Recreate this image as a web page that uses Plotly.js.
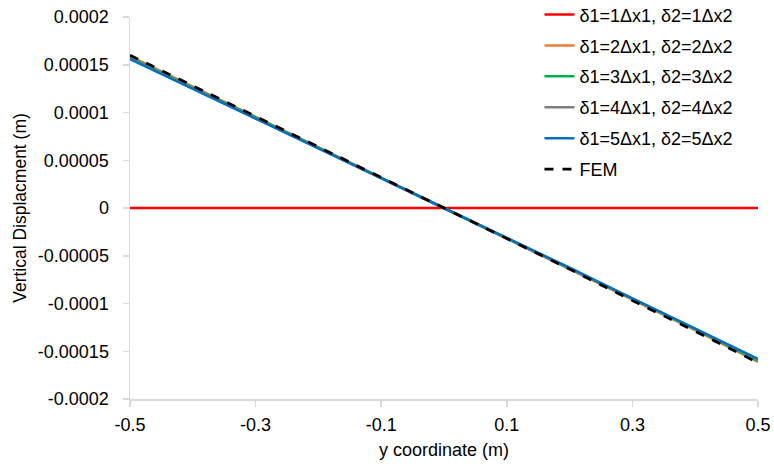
<!DOCTYPE html>
<html>
<head>
<meta charset="utf-8">
<script src="https://cdn.plot.ly/plotly-3.0.1.min.js"></script>
<style>html,body{margin:0;padding:0;background:#fff;}#chart{width:774px;height:474px;}</style>
</head>
<body>
<div id="chart"></div>
<script>
const yCoord = [-0.5, -0.4, -0.3, -0.2, -0.1, 0, 0.1, 0.2, 0.3, 0.4, 0.5];
const delta1 = [0, 0, 0, 0, 0, 0, 0, 0, 0, 0, 0];
const delta2 = [0.000159, 0.000127, 0.0000955, 0.0000637, 0.0000318, 0, -0.0000319, -0.0000638, -0.0000962, -0.000128, -0.000161];
const delta3 = [0.000158, 0.000126, 0.000095, 0.0000633, 0.0000316, 0, -0.0000317, -0.0000634, -0.0000958, -0.000127, -0.00016];
const delta4 = [0.000157, 0.0001255, 0.0000945, 0.000063, 0.0000314, 0, -0.0000315, -0.000063, -0.0000952, -0.0001265, -0.000159];
const delta5 = [0.000156, 0.000125, 0.000094, 0.0000625, 0.0000312, 0, -0.0000312, -0.0000625, -0.0000945, -0.000126, -0.000158];
const fem = [0.00016, 0.000128, 0.000096, 0.000064, 0.000032, 0, -0.000032, -0.000064, -0.000097, -0.000129, -0.000162];
const names = ["δ1=1Δx1, δ2=1Δx2", "δ1=2Δx1, δ2=2Δx2", "δ1=3Δx1, δ2=3Δx2", "δ1=4Δx1, δ2=4Δx2", "δ1=5Δx1, δ2=5Δx2", "FEM"];
const xTicks = [-0.5, -0.3, -0.1, 0.1, 0.3, 0.5];
const xTickText = ["-0.5", "-0.3", "-0.1", "0.1", "0.3", "0.5"];
const yTicks = [-0.0002, -0.00015, -0.0001, -0.00005, 0, 0.00005, 0.0001, 0.00015, 0.0002];
const yTickText = ["-0.0002", "-0.00015", "-0.0001", "-0.00005", "0", "0.00005", "0.0001", "0.00015", "0.0002"];

const colors = ["#FF0000", "#ED7D31", "#00B050", "#7F7F7F", "#0070C0", "#000000"];
const series = [delta1, delta2, delta3, delta4, delta5, fem];
const traces = series.map((s, i) => ({
  x: yCoord, y: s, type: "scatter", mode: "lines", name: names[i], legendgroup: "g" + i,
  line: {color: colors[i], width: i === 5 ? 2.75 : 2.5, dash: i === 5 ? "dash" : "solid"}
}));

const ff = "Liberation Sans, Arial, sans-serif";
const layout = {
  width: 774, height: 474,
  margin: {l: 130, r: 16, t: 17, b: 75, autoexpand: false},
  paper_bgcolor: "#fff", plot_bgcolor: "#fff",
  font: {family: ff, size: 18, color: "#000"},
  showlegend: true,
  legend: {x: 0.652, y: 1.054, xanchor: "left", yanchor: "top", bgcolor: "rgba(255,255,255,0)",
    font: {family: ff, size: 18, color: "#000"}, tracegroupgap: 4.5},
  xaxis: {
    range: [-0.5, 0.5], tickvals: xTicks, ticktext: xTickText,
    showgrid: false, zeroline: false, showline: true, linecolor: "#D9D9D9", linewidth: 1.5,
    ticks: "outside", ticklen: 6, tickcolor: "#D9D9D9", tickwidth: 1.5,
    ticklabelstandoff: 3,
    tickfont: {family: ff, size: 18, color: "#000"},
    title: {text: "y coordinate (m)", font: {family: ff, size: 18, color: "#000"}, standoff: 9},
    fixedrange: true
  },
  yaxis: {
    range: [-0.0002, 0.0002], tickvals: yTicks, ticktext: yTickText,
    showgrid: false, zeroline: false, showline: true, linecolor: "#D9D9D9", linewidth: 1.5,
    ticks: "outside", ticklen: 6, tickcolor: "#D9D9D9", tickwidth: 1.5,
    ticklabelstandoff: 10,
    tickfont: {family: ff, size: 18, color: "#000"},
    title: {text: "Vertical Displacment (m)", font: {family: ff, size: 17.5, color: "#000"}, standoff: 6},
    fixedrange: true
  }
};
Plotly.newPlot("chart", traces, layout, {displayModeBar: false, staticPlot: true});
</script>
</body>
</html>
